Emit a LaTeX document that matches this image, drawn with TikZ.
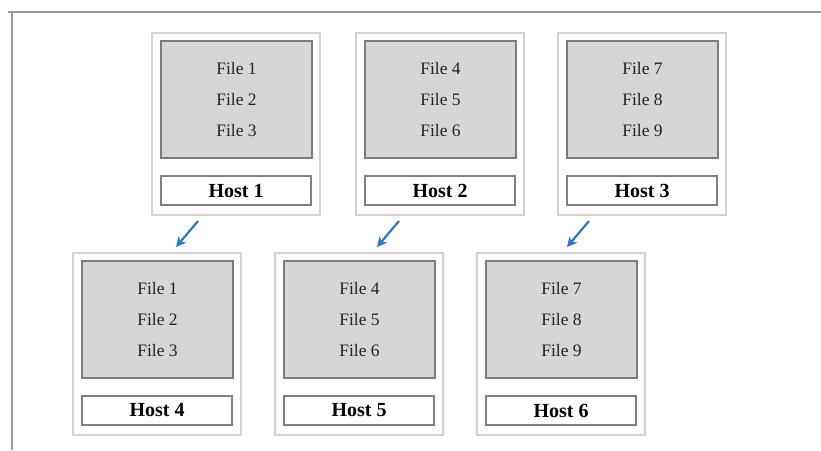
\documentclass[tikz,border=0pt]{standalone}
\usepackage{fontspec}
\setmainfont{Liberation Serif}
\usetikzlibrary{arrows.meta}
\definecolor{framegray}{HTML}{9A9A9A}
\definecolor{cardedge}{HTML}{D2D2D2}
\definecolor{filefill}{HTML}{D6D6D6}
\definecolor{fileedge}{HTML}{7C7C7C}
\definecolor{hostedge}{HTML}{808080}
\definecolor{arrowblue}{HTML}{2E78BE}
\definecolor{txt}{HTML}{222222}
\tikzset{
  outerbox/.style={draw=cardedge, line width=1.5pt, fill=white, minimum width=168pt, minimum height=182pt, inner sep=0pt, anchor=north west},
  filebox/.style={draw=fileedge, fill=filefill, line width=2pt, minimum width=151pt, minimum height=117pt, inner sep=0pt, anchor=north west, align=center, text=txt, font=\fontsize{17.5}{31}\selectfont},
  hostbox/.style={draw=hostedge, fill=white, line width=2pt, minimum width=150pt, minimum height=29pt, inner sep=0pt, anchor=north west, text=black, font=\fontsize{20}{22}\selectfont\bfseries},
  copyarrow/.style={draw=arrowblue, line width=2.2pt, -{Stealth[length=10pt,width=10pt,inset=3pt]}},
  frameline/.style={draw=framegray, line width=2.8pt}
}
\newcommand\hostcard[5]{%
  \begin{scope}[shift={(#2,#3)}]
    \node[outerbox] (#1) at (0,0) {};
    \node[filebox] (#1f) at (9,8) {#4};
    \node[hostbox] (#1h) at (9,143) {#5};
  \end{scope}}
\begin{document}
\begin{tikzpicture}[x=1pt,y=-1pt]
\useasboundingbox (0,0) rectangle (821,450);
\coordinate (ftl) at (8,12);
\coordinate (ftr) at (821,12);
\coordinate (fl) at (12,12);
\coordinate (fb) at (12,450);
\draw[frameline] (ftl) -- (ftr);
\draw[frameline] (fl) -- (fb);
\hostcard{c1}{151}{32}{File 1\\File 2\\File 3}{Host 1}
\hostcard{c2}{355}{32}{File 4\\File 5\\File 6}{Host 2}
\hostcard{c3}{557}{32}{File 7\\File 8\\File 9}{Host 3}
\hostcard{c4}{72}{252}{File 1\\File 2\\File 3}{Host 4}
\hostcard{c5}{274}{252}{File 4\\File 5\\File 6}{Host 5}
\hostcard{c6}{476}{252}{File 7\\File 8\\File 9}{Host 6}
\coordinate (a1s) at (198,221); \coordinate (a1e) at (176,247);
\coordinate (a2s) at (399,221); \coordinate (a2e) at (377,247);
\coordinate (a3s) at (589,221); \coordinate (a3e) at (567,247);
\draw[copyarrow] (a1s) -- (a1e);
\draw[copyarrow] (a2s) -- (a2e);
\draw[copyarrow] (a3s) -- (a3e);
\end{tikzpicture}
\end{document}
